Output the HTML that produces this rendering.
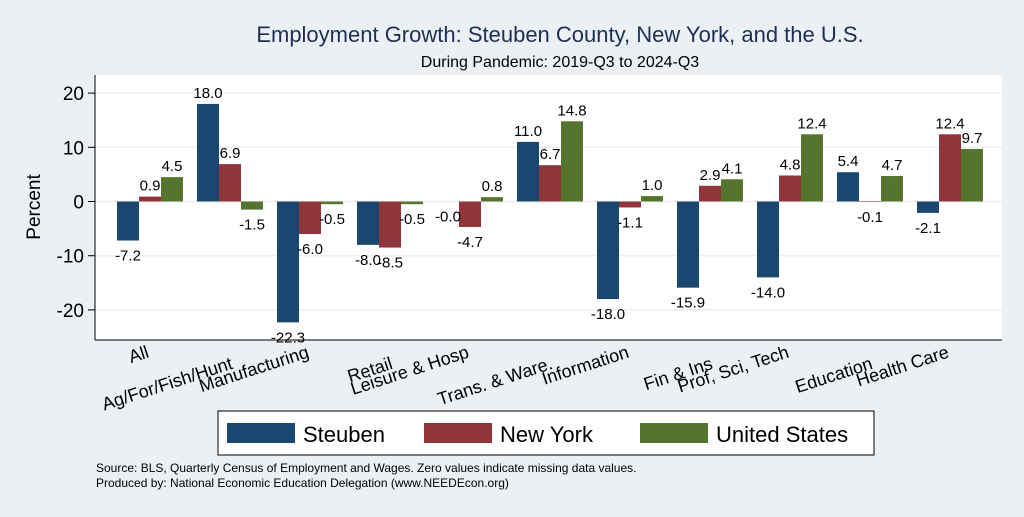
<!DOCTYPE html>
<html><head><style>
body{margin:0;background:#eaf0f3;font-family:"Liberation Sans",sans-serif}
</style></head><body>
<svg id="c" width="1024" height="512" xmlns="http://www.w3.org/2000/svg">
<rect width="1024" height="512" fill="#eaf0f3"/>
<text x="560" y="42" text-anchor="middle" font-size="22" fill="#1e2f55">Employment Growth: Steuben County, New York, and the U.S.</text>
<text x="560" y="67" text-anchor="middle" font-size="16" fill="#000">During Pandemic: 2019-Q3 to 2024-Q3</text>
<rect x="95" y="75" width="907" height="265" fill="#fff"/>
<g id="grid"></g><g id="bars"></g><g id="vals"></g><g id="xl"></g>
<line x1="95" y1="75" x2="95" y2="340" stroke="#000"/>
<line x1="95" y1="340" x2="1002" y2="340" stroke="#000"/>
<text transform="translate(40,207) rotate(-90)" text-anchor="middle" font-size="19">Percent</text>
<rect x="218" y="411" width="656" height="44" fill="#fff" stroke="#000"/>
<g><rect x="227" y="423" width="68" height="20" fill="#1a476f"/><text x="303" y="442" font-size="22">Steuben</text></g>
<g><rect x="424" y="423" width="68" height="20" fill="#90353b"/><text x="500" y="442" font-size="22">New York</text></g>
<g><rect x="640" y="423" width="68" height="20" fill="#55752f"/><text x="716" y="442" font-size="22">United States</text></g>
<text x="96" y="472" font-size="12">Source: BLS, Quarterly Census of Employment and Wages. Zero values indicate missing data values.</text>
<text x="96" y="487" font-size="12">Produced by: National Economic Education Delegation (www.NEEDEcon.org)</text>
</svg>
<script>
const categories=["All","Ag/For/Fish/Hunt","Manufacturing","Retail","Leisure & Hosp","Trans. & Ware.","Information","Fin & Ins","Prof, Sci, Tech","Education","Health Care"];
const steuben=[-7.2,18.0,-22.3,-8.0,-0.0,11.0,-18.0,-15.9,-14.0,5.4,-2.1];
const newYork=[0.9,6.9,-6.0,-8.5,-4.7,6.7,-1.1,2.9,4.8,-0.1,12.4];
const unitedStates=[4.5,-1.5,-0.5,-0.5,0.8,14.8,1.0,4.1,12.4,4.7,9.7];
const yTicks=[-20,-10,0,10,20];
const NS="http://www.w3.org/2000/svg";
const y=v=>201.5-v*5.42;
const gx=i=>150+i*80;
function mk(t,a,p){const e=document.createElementNS(NS,t);for(const k in a)e.setAttribute(k,a[k]);p.appendChild(e);return e;}
const grid=document.getElementById('grid');
yTicks.forEach(t=>{
 const l=mk('line',{x1:95,x2:1002,y1:y(t),y2:y(t),stroke:'#eaf0f3','stroke-width':1.5},grid);
 
 
 mk('line',{x1:88,x2:95,y1:y(t),y2:y(t),stroke:'#000'},grid);
 const tx=mk('text',{x:84,y:y(t)+7,'text-anchor':'end','font-size':19},grid);
 tx.textContent=t;
 
 
});
const series=[[steuben,'#1a476f','steuben'],[newYork,'#90353b','new-york'],[unitedStates,'#55752f','united-states']];
const bars=document.getElementById('bars'),vals=document.getElementById('vals'),xl=document.getElementById('xl');
categories.forEach((c,i)=>{
 series.forEach(([arr,col,nm],s)=>{
  const v=arr[i],x0=gx(i)-33+s*22;
  const r=mk('rect',{x:x0,y:Math.min(y(v),y(0)),width:22,height:Math.abs(y(v)-y(0)),fill:col},bars);
  
  
  const neg=v<0||Object.is(v,-0);
  const t=mk('text',{x:x0+11,y:neg?y(v)+20:y(v)-6,'text-anchor':'middle','font-size':15},vals);
  t.textContent=(Object.is(v,-0)?'-':'')+v.toFixed(1);
  
  
 });
 const t=mk('text',{transform:`translate(${gx(i)},357) rotate(-18)`,x:0,y:(i%2?12:0),'text-anchor':'end','font-size':18},xl);
 t.textContent=c;
 
 
});
</script>
</body></html>
